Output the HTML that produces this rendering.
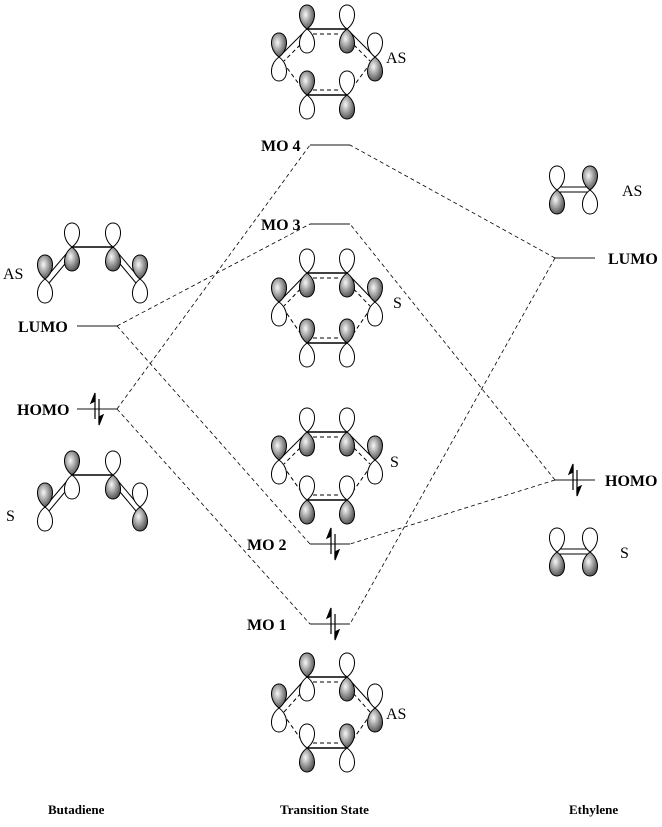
<!DOCTYPE html>
<html><head><meta charset="utf-8"><style>
html,body{margin:0;padding:0;background:#fff;}
svg{display:block;}
text{font-family:"Liberation Serif",serif;font-size:16px;fill:#000;}
.b{font-weight:bold;}
.s{font-size:13px;}
</style></head><body>
<svg width="662" height="827" viewBox="0 0 662 827" xmlns="http://www.w3.org/2000/svg">
<defs>
<radialGradient id="g" cx="0.4" cy="0.4" r="0.75">
<stop offset="0" stop-color="#f8f8f8"/><stop offset="0.55" stop-color="#888"/><stop offset="1" stop-color="#333"/>
</radialGradient>
<path id="uo" d="M0 0 C-11 -8 -9 -24 0 -24 C9 -24 11 -8 0 0Z" fill="#fff" stroke="#000" stroke-width="1"/>
<path id="us" d="M0 0 C-11 -8 -9 -24 0 -24 C9 -24 11 -8 0 0Z" fill="url(#g)" stroke="#000" stroke-width="1"/>
<path id="do" d="M0 0 C-11 8 -9 24 0 24 C9 24 11 8 0 0Z" fill="#fff" stroke="#000" stroke-width="1"/>
<path id="ds" d="M0 0 C-11 8 -9 24 0 24 C9 24 11 8 0 0Z" fill="url(#g)" stroke="#000" stroke-width="1"/>
</defs>

<g stroke="#444" stroke-width="1.3">
<line x1="310" y1="145" x2="350" y2="145"/>
<line x1="310" y1="224" x2="350" y2="224"/>
<line x1="310" y1="544" x2="350" y2="544"/>
<line x1="310" y1="624" x2="350" y2="624"/>
<line x1="77" y1="326" x2="117" y2="326"/>
<line x1="77" y1="409" x2="117" y2="409"/>
<line x1="555" y1="258" x2="595" y2="258"/>
<line x1="555" y1="480" x2="595" y2="480"/>
</g>
<g stroke="#000" stroke-width="0.8" stroke-dasharray="4,3" fill="none">
<line x1="117" y1="326" x2="310" y2="224"/>
<line x1="117" y1="326" x2="310" y2="544"/>
<line x1="117" y1="409" x2="310" y2="145"/>
<line x1="117" y1="409" x2="310" y2="624"/>
<line x1="555" y1="258" x2="350" y2="145"/>
<line x1="555" y1="258" x2="350" y2="624"/>
<line x1="555" y1="480" x2="350" y2="224"/>
<line x1="555" y1="480" x2="350" y2="544"/>
</g>
<g stroke="#000" stroke-width="1.2" fill="#000">
<g transform="translate(97,409)"><line x1="-2" y1="-14" x2="-2" y2="10"/><path d="M-2 -16 L-6 -6 L-2 -8Z"/><line x1="2" y1="-10" x2="2" y2="14"/><path d="M2 16 L6 6 L2 8Z"/></g>
<g transform="translate(333,544)"><line x1="-2" y1="-14" x2="-2" y2="10"/><path d="M-2 -16 L-6 -6 L-2 -8Z"/><line x1="2" y1="-10" x2="2" y2="14"/><path d="M2 16 L6 6 L2 8Z"/></g>
<g transform="translate(333,624)"><line x1="-2" y1="-14" x2="-2" y2="10"/><path d="M-2 -16 L-6 -6 L-2 -8Z"/><line x1="2" y1="-10" x2="2" y2="14"/><path d="M2 16 L6 6 L2 8Z"/></g>
<g transform="translate(575,480)"><line x1="-2" y1="-14" x2="-2" y2="10"/><path d="M-2 -16 L-6 -6 L-2 -8Z"/><line x1="2" y1="-10" x2="2" y2="14"/><path d="M2 16 L6 6 L2 8Z"/></g>
</g>

<g stroke="#000" stroke-width="1" fill="none">
<line x1="307" y1="29" x2="347" y2="29" stroke-width="1.5"/><line x1="313" y1="34" x2="341" y2="34" stroke-dasharray="4,3"/>
<line x1="307" y1="29" x2="279" y2="57"/><line x1="375" y1="57" x2="347" y2="29"/>
<line x1="310" y1="35" x2="284" y2="61" stroke-dasharray="4,3"/><line x1="344" y1="35" x2="370" y2="61" stroke-dasharray="4,3"/>
<line x1="279" y1="57" x2="307" y2="95" stroke-dasharray="4,3"/><line x1="375" y1="57" x2="347" y2="95" stroke-dasharray="4,3"/>
<line x1="307" y1="95" x2="347" y2="95" stroke-width="1.5"/><line x1="313" y1="90" x2="341" y2="90" stroke-dasharray="4,3"/>
<line x1="307" y1="273" x2="347" y2="273" stroke-width="1.5"/><line x1="313" y1="278" x2="341" y2="278" stroke-dasharray="4,3"/>
<line x1="307" y1="273" x2="279" y2="302"/><line x1="375" y1="302" x2="347" y2="273"/>
<line x1="310" y1="279" x2="284" y2="306" stroke-dasharray="4,3"/><line x1="344" y1="279" x2="370" y2="306" stroke-dasharray="4,3"/>
<line x1="279" y1="302" x2="307" y2="343" stroke-dasharray="4,3"/><line x1="375" y1="302" x2="347" y2="343" stroke-dasharray="4,3"/>
<line x1="307" y1="343" x2="347" y2="343" stroke-width="1.5"/><line x1="313" y1="338" x2="341" y2="338" stroke-dasharray="4,3"/>
<line x1="307" y1="432" x2="347" y2="432" stroke-width="1.5"/><line x1="313" y1="437" x2="341" y2="437" stroke-dasharray="4,3"/>
<line x1="307" y1="432" x2="279" y2="460"/><line x1="375" y1="460" x2="347" y2="432"/>
<line x1="310" y1="438" x2="284" y2="464" stroke-dasharray="4,3"/><line x1="344" y1="438" x2="370" y2="464" stroke-dasharray="4,3"/>
<line x1="279" y1="460" x2="307" y2="500" stroke-dasharray="4,3"/><line x1="375" y1="460" x2="347" y2="500" stroke-dasharray="4,3"/>
<line x1="307" y1="500" x2="347" y2="500" stroke-width="1.5"/><line x1="313" y1="495" x2="341" y2="495" stroke-dasharray="4,3"/>
<line x1="307" y1="677" x2="347" y2="677" stroke-width="1.5"/><line x1="313" y1="682" x2="341" y2="682" stroke-dasharray="4,3"/>
<line x1="307" y1="677" x2="279" y2="708"/><line x1="375" y1="708" x2="347" y2="677"/>
<line x1="310" y1="683" x2="284" y2="712" stroke-dasharray="4,3"/><line x1="344" y1="683" x2="370" y2="712" stroke-dasharray="4,3"/>
<line x1="279" y1="708" x2="307" y2="748" stroke-dasharray="4,3"/><line x1="375" y1="708" x2="347" y2="748" stroke-dasharray="4,3"/>
<line x1="307" y1="748" x2="347" y2="748" stroke-width="1.5"/><line x1="313" y1="743" x2="341" y2="743" stroke-dasharray="4,3"/>
<line x1="45" y1="279" x2="72" y2="247"/><line x1="49" y1="283" x2="75" y2="252"/>
<line x1="72" y1="247" x2="113" y2="247" stroke-width="1.5"/>
<line x1="113" y1="247" x2="140" y2="279"/><line x1="110" y1="252" x2="136" y2="283"/>
<line x1="45" y1="507" x2="72" y2="475"/><line x1="49" y1="511" x2="75" y2="480"/>
<line x1="72" y1="475" x2="113" y2="475" stroke-width="1.5"/>
<line x1="113" y1="475" x2="140" y2="507"/><line x1="110" y1="480" x2="136" y2="511"/>
<line x1="557" y1="187" x2="590" y2="187"/><line x1="557" y1="192" x2="590" y2="192"/>
<line x1="557" y1="549" x2="590" y2="549"/><line x1="557" y1="554" x2="590" y2="554"/>
</g>

<use href="#us" x="307" y="29"/><use href="#do" x="307" y="29"/>
<use href="#uo" x="347" y="29"/><use href="#ds" x="347" y="29"/>
<use href="#us" x="279" y="57"/><use href="#do" x="279" y="57"/>
<use href="#uo" x="375" y="57"/><use href="#ds" x="375" y="57"/>
<use href="#us" x="307" y="95"/><use href="#do" x="307" y="95"/>
<use href="#uo" x="347" y="95"/><use href="#ds" x="347" y="95"/>

<use href="#uo" x="307" y="273"/><use href="#ds" x="307" y="273"/>
<use href="#uo" x="347" y="273"/><use href="#ds" x="347" y="273"/>
<use href="#us" x="279" y="302"/><use href="#do" x="279" y="302"/>
<use href="#us" x="375" y="302"/><use href="#do" x="375" y="302"/>
<use href="#us" x="307" y="343"/><use href="#do" x="307" y="343"/>
<use href="#us" x="347" y="343"/><use href="#do" x="347" y="343"/>

<use href="#uo" x="307" y="432"/><use href="#ds" x="307" y="432"/>
<use href="#uo" x="347" y="432"/><use href="#ds" x="347" y="432"/>
<use href="#us" x="279" y="460"/><use href="#do" x="279" y="460"/>
<use href="#us" x="375" y="460"/><use href="#do" x="375" y="460"/>
<use href="#uo" x="307" y="500"/><use href="#ds" x="307" y="500"/>
<use href="#uo" x="347" y="500"/><use href="#ds" x="347" y="500"/>

<use href="#us" x="307" y="677"/><use href="#do" x="307" y="677"/>
<use href="#uo" x="347" y="677"/><use href="#ds" x="347" y="677"/>
<use href="#us" x="279" y="708"/><use href="#do" x="279" y="708"/>
<use href="#uo" x="375" y="708"/><use href="#ds" x="375" y="708"/>
<use href="#uo" x="307" y="748"/><use href="#ds" x="307" y="748"/>
<use href="#us" x="347" y="748"/><use href="#do" x="347" y="748"/>

<use href="#us" x="45" y="279"/><use href="#do" x="45" y="279"/>
<use href="#uo" x="72" y="247"/><use href="#ds" x="72" y="247"/>
<use href="#uo" x="113" y="247"/><use href="#ds" x="113" y="247"/>
<use href="#us" x="140" y="279"/><use href="#do" x="140" y="279"/>

<use href="#us" x="45" y="507"/><use href="#do" x="45" y="507"/>
<use href="#us" x="72" y="475"/><use href="#do" x="72" y="475"/>
<use href="#uo" x="113" y="475"/><use href="#ds" x="113" y="475"/>
<use href="#uo" x="140" y="507"/><use href="#ds" x="140" y="507"/>

<use href="#uo" x="557" y="190"/><use href="#ds" x="557" y="190"/>
<use href="#us" x="590" y="190"/><use href="#do" x="590" y="190"/>

<use href="#uo" x="557" y="552"/><use href="#ds" x="557" y="552"/>
<use href="#uo" x="590" y="552"/><use href="#ds" x="590" y="552"/>

<text x="386" y="63">AS</text>
<text x="393" y="308">S</text>
<text x="390" y="467">S</text>
<text x="386" y="719">AS</text>
<text x="3" y="279">AS</text>
<text x="6" y="521">S</text>
<text x="622" y="196">AS</text>
<text x="620" y="558">S</text>
<text class="b" x="261" y="151">MO 4</text>
<text class="b" x="261" y="230">MO 3</text>
<text class="b" x="247" y="550">MO 2</text>
<text class="b" x="247" y="630">MO 1</text>
<text class="b" x="18" y="332">LUMO</text>
<text class="b" x="17" y="415">HOMO</text>
<text class="b" x="608" y="264">LUMO</text>
<text class="b" x="605" y="486">HOMO</text>
<text class="b s" x="48" y="814">Butadiene</text>
<text class="b s" x="280" y="814">Transition State</text>
<text class="b s" x="569" y="814">Ethylene</text>
</svg>
</body></html>
